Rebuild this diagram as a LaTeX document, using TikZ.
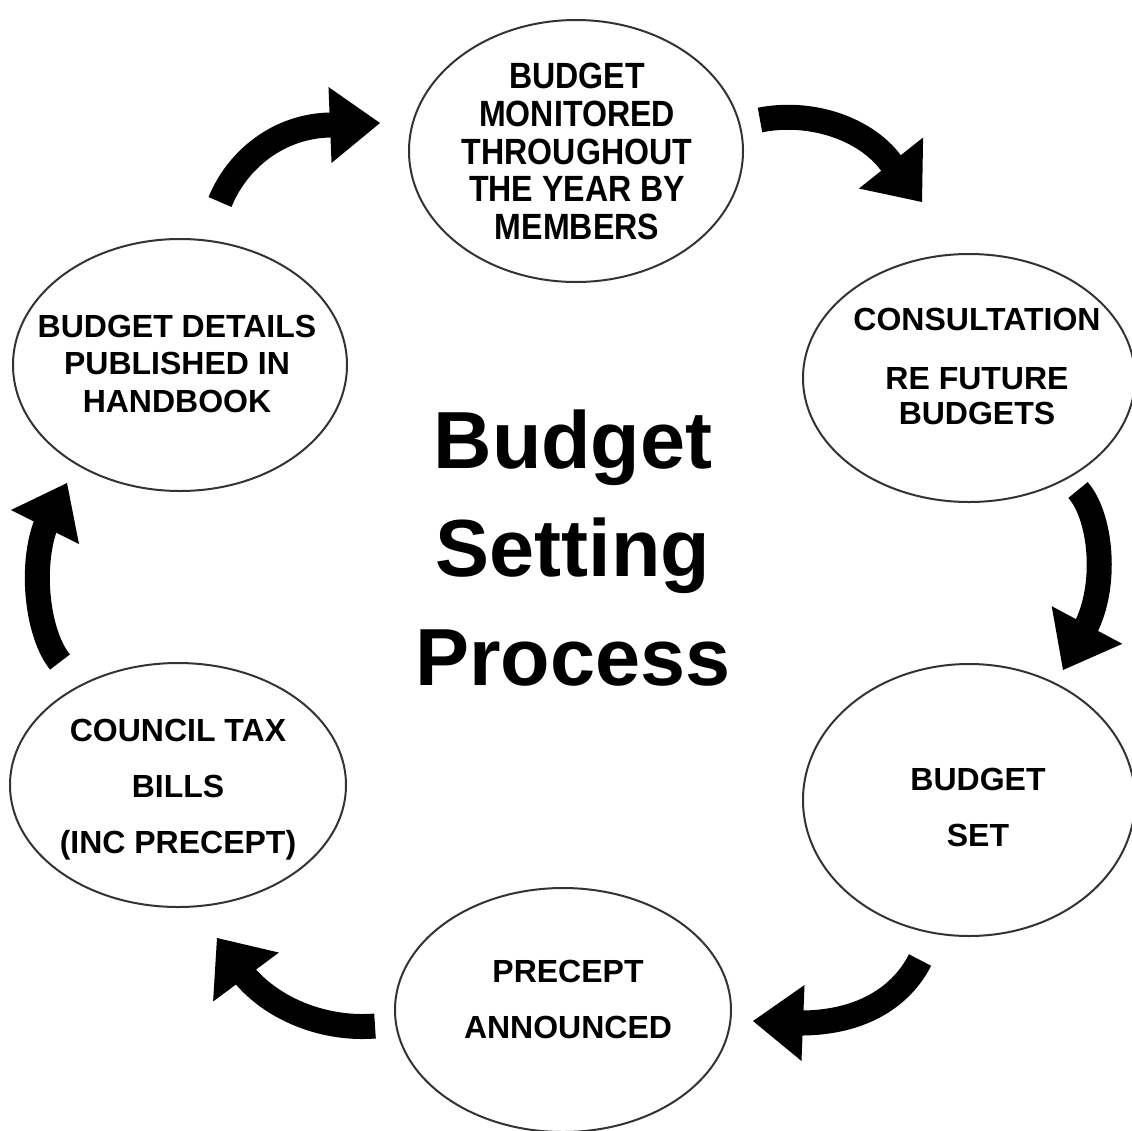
\documentclass[tikz,border=0pt]{standalone}
\usepackage{fontspec}
\setmainfont{Liberation Sans}
\newfontfamily\tallfont[FakeStretch=0.88]{Liberation Sans}
\usetikzlibrary{shapes.geometric,calc}
\tikzset{
  stage/.style={ellipse, draw=black!80, line width=2pt, inner sep=0pt},
  txt/.style={align=center, inner sep=0pt, font=\bfseries\fontsize{32}{37.5}\selectfont},
  shaft/.style={line width=25pt, line cap=butt, draw=black},
}
\newcommand\bigcurvedarrow[6]{%
  % #1 tail, #2 ctrl1, #3 ctrl2, #4 head base middle, #5 tip, #6 half width of head
  \draw[shaft] (#1) .. controls (#2) and (#3) .. (#4) -- ($(#4)!6pt!(#5)$);
  \fill[black] ($(#4)!#6!90:(#5)$) -- (#5) -- ($(#4)!#6!-90:(#5)$) -- cycle;
}
\begin{document}
\begin{tikzpicture}[x=1pt,y=-1pt]
\useasboundingbox (0,0) rectangle (1132,1130);

% stages
\node[stage, minimum width=334pt, minimum height=262pt] (s1) at (576,151) {};
\node[stage, minimum width=332pt, minimum height=248pt] (s2) at (969,378) {};
\node[stage, minimum width=332pt, minimum height=272pt] (s3) at (969,800) {};
\node[stage, minimum width=336pt, minimum height=244pt] (s4) at (563,1010) {};
\node[stage, minimum width=336pt, minimum height=244pt] (s5) at (178,785) {};
\node[stage, minimum width=334pt, minimum height=252pt] (s6) at (180,365) {};

% texts
\node[txt, font=\tallfont\bfseries\fontsize{36.5}{37.75}\selectfont] (t1) at (577,151.5)
  {BUDGET\\MONITORED\\THROUGHOUT\\THE YEAR BY\\MEMBERS};
\node[txt, font=\bfseries\fontsize{32}{35}\selectfont] (t2) at (977,366.5)
  {CONSULTATION\\[24pt]RE FUTURE\\BUDGETS};
\node[txt, font=\bfseries\fontsize{32}{56}\selectfont] (t3) at (978,807) {BUDGET\\SET};
\node[txt, font=\bfseries\fontsize{32}{56}\selectfont] (t4) at (568,999) {PRECEPT\\ANNOUNCED};
\node[txt, font=\bfseries\fontsize{32}{56}\selectfont] (t5) at (178,790) {COUNCIL TAX\\BILLS\\(INC PRECEPT)};
\node[txt] (t6) at (177,363.5) {BUDGET DETAILS\\PUBLISHED IN\\HANDBOOK};

% title
\node[align=center, inner sep=0pt, font=\bfseries\fontsize{81}{108.5}\selectfont] (title) at (573,548)
  {Budget\\Setting\\Process};

% arrow points
\coordinate (a1t) at (220,202); \coordinate (a1c) at (238,158); \coordinate (a1d) at (280,126);
\coordinate (a1b) at (330,125); \coordinate (a1p) at (380,123);
\coordinate (a2t) at (760,120); \coordinate (a2c) at (810,110); \coordinate (a2d) at (865,128);
\coordinate (a2b) at (891,163); \coordinate (a2p) at (922,202);
\coordinate (a3t) at (1078,490); \coordinate (a3c) at (1100,515); \coordinate (a3d) at (1108,580);
\coordinate (a3b) at (1087,625); \coordinate (a3p) at (1063,670);
\coordinate (a4t) at (920,960); \coordinate (a4c) at (905,990); \coordinate (a4d) at (870,1022);
\coordinate (a4b) at (803,1023); \coordinate (a4p) at (753,1021);
\coordinate (a5t) at (375,1026); \coordinate (a5c) at (325,1030); \coordinate (a5d) at (275,1010);
\coordinate (a5b) at (246,977); \coordinate (a5p) at (217,938);
\coordinate (a6t) at (60,662); \coordinate (a6c) at (38,635); \coordinate (a6d) at (30,570);
\coordinate (a6b) at (45,527); \coordinate (a6p) at (67,483);

\bigcurvedarrow{a1t}{a1c}{a1d}{a1b}{a1p}{38pt}
\bigcurvedarrow{a2t}{a2c}{a2d}{a2b}{a2p}{41pt}
\bigcurvedarrow{a3t}{a3c}{a3d}{a3b}{a3p}{40pt}
\bigcurvedarrow{a4t}{a4c}{a4d}{a4b}{a4p}{38pt}
\bigcurvedarrow{a5t}{a5c}{a5d}{a5b}{a5p}{41pt}
\bigcurvedarrow{a6t}{a6c}{a6d}{a6b}{a6p}{38pt}
\end{tikzpicture}
\end{document}
